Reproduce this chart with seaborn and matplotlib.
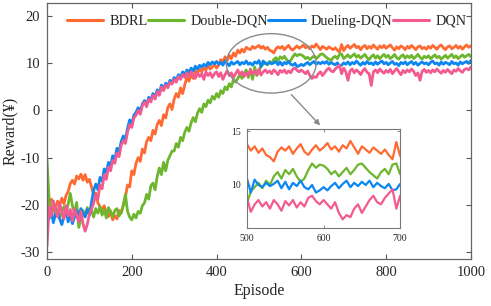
import numpy as np
import pandas as pd
import matplotlib
matplotlib.use("Agg")
import matplotlib.pyplot as plt
from matplotlib.patches import Ellipse
import seaborn as sns

episodes = list(range(0, 1001, 5))

bdrl = [
    -19, -20.5, -18.8, -19.5, -21, -19.2, -20, -18.6, -19.8, -18, -17.2, -15.5, -14.8, -15.6, -13.9, -14.5, -13.5, -14.8, -13.6, -15.2,
    -14.6, -16.2, -17.8, -17.5, -19.6, -20.4, -21.2, -20.2, -21.8, -22.5, -21.4, -23.2, -22.3, -23.0, -21.2, -21.8, -20.0, -18.4, -15.8, -16.2,
    -12.8, -13.6, -11.2, -10.0, -10.8, -8.2, -9.0, -6.6, -5.7, -6.4, -4.2, -5.0, -3.0, -2.1, -3.2, -0.9, -1.6, 0.6, 1.4, 0.2,
    2.4, 3.6, 2.8, 4.8, 3.6, 5.4, 7.0, 6.2, 7.6, 6.8, 8.5, 7.8, 9.0, 8.2, 9.0, 8.6, 9.6, 8.8, 9.2, 9.8,
    9.0, 9.6, 10.8, 10.2, 11.4, 10.6, 11.7, 11.0, 12.2, 11.5, 12.8, 12.2, 13.0, 12.4, 13.4, 13.1, 12.9, 13.6, 13.2, 13.5,
    13.8, 13.2, 13.6, 13.0, 13.4, 12.8, 12.6, 12.2, 13.1, 13.5, 13.2, 13.6, 12.9, 13.4, 13.8, 13.1, 12.8, 13.3, 13.7, 13.2,
    13.5, 13.9, 13.3, 13.6, 13.1, 13.7, 13.4, 14.1, 13.5, 12.9, 13.6, 13.3, 13.0, 13.5, 13.2, 12.9, 13.3, 12.8, 12.4, 14.0,
    12.7, 13.4, 13.8, 13.2, 13.6, 14.0, 13.3, 13.6, 12.9, 13.5, 13.8, 13.1, 13.6, 13.2, 13.9, 13.4, 13.0, 13.7, 13.3, 13.8,
    13.2, 13.6, 13.9, 13.3, 12.8, 13.5, 13.1, 13.7, 13.4, 12.9, 13.6, 13.2, 13.8, 13.4, 12.9, 13.5, 13.7, 13.1, 13.4, 13.0,
    13.6, 13.2, 13.8, 13.4, 13.0, 13.6, 13.9, 13.3, 12.9, 13.5, 13.7, 13.1, 13.4, 13.8, 13.2, 13.6, 13.0, 13.5, 13.9, 13.4, 13.7,
]

double_dqn = [
    -10.5, -19, -21.5, -20.2, -22.4, -21.0, -22.8, -21.5, -20.4, -22.0, -19.8, -17.6, -20.2, -21.8, -19.5, -24.8, -23.0, -21.2, -22.4, -20.6,
    -22.0, -21.2, -22.6, -20.8, -21.8, -20.4, -22.2, -21.0, -22.8, -20.6, -21.4, -22.6, -21.2, -20.8, -22.4, -21.6, -20.2, -17.8, -21.4, -22.6,
    -23.2, -22.0, -22.8, -21.4, -21.8, -20.2, -19.6, -17.8, -18.8, -16.0, -15.4, -16.8, -14.0, -12.2, -13.6, -11.0, -12.8, -10.6, -9.6, -8.6,
    -8.6, -7.0, -7.8, -5.7, -6.4, -4.6, -3.6, -4.4, -2.6, -1.5, -2.4, -0.6, 0.4, -0.4, 1.4, 0.8, 2.2, 1.6, 3.0, 2.4,
    3.6, 2.8, 4.2, 3.6, 5.0, 4.4, 5.7, 5.0, 6.6, 6.0, 6.8, 7.6, 6.8, 7.8, 8.6, 7.0, 8.8, 6.6, 9.2, 7.4,
    8.3, 9.4, 9.8, 10.2, 9.7, 10.4, 10.0, 10.8, 11.2, 10.6, 11.4, 11.0, 11.5, 10.8, 10.3, 10.6, 11.4, 12.0, 11.6, 11.9,
    11.8, 11.5, 11.0, 11.3, 10.8, 11.2, 11.6, 11.0, 11.4, 11.9, 12.0, 11.6, 11.2, 10.9, 10.6, 11.2, 11.5, 11.0, 11.9, 12.0,
    11.0, 11.4, 11.8, 11.2, 11.6, 12.0, 11.3, 11.7, 11.1, 11.5, 11.9, 11.2, 10.8, 11.4, 11.8, 11.1, 11.6, 11.0, 11.5, 11.9,
    11.3, 11.7, 11.0, 11.4, 11.9, 11.2, 10.9, 11.5, 11.8, 11.1, 11.6, 11.2, 11.7, 11.0, 11.4, 11.9, 11.3, 10.9, 11.5, 11.2,
    11.6, 11.0, 11.4, 11.8, 11.2, 11.5, 10.9, 11.3, 11.7, 11.1, 11.5, 11.9, 11.2, 11.6, 11.0, 11.4, 11.8, 11.3, 11.6, 11.9, 11.4,
]

dueling_dqn = [
    -21.5, -23.0, -21.2, -23.8, -22.0, -21.4, -23.0, -24.2, -22.4, -21.2, -23.6, -22.0, -24.0, -22.6, -21.2, -22.4, -20.8, -21.8, -22.6, -21.0,
    -22.2, -19.5, -17.0, -15.6, -16.8, -14.2, -15.0, -12.4, -13.2, -11.0, -11.8, -9.6, -10.4, -8.0, -8.8, -6.6, -5.4, -6.2, -3.8, -2.0,
    -2.8, -1.0, -0.4, 0.6, -0.2, 1.4, 2.1, 1.2, 2.8, 2.2, 3.6, 2.8, 4.4, 3.6, 5.4, 4.6, 5.8, 5.2, 6.4, 6.0,
    7.0, 6.4, 7.6, 7.0, 8.2, 7.6, 8.6, 8.0, 9.0, 8.4, 9.4, 8.8, 9.6, 9.2, 9.8, 9.4, 10.2, 9.7, 10.3, 9.9,
    10.4, 9.8, 10.2, 9.6, 10.5, 10.0, 9.5, 10.3, 9.8, 10.1, 10.4, 9.7, 10.2, 9.9, 10.5, 9.8, 10.1, 9.6, 10.3, 10.0,
    10.6, 9.3, 10.5, 10.0, 9.8, 10.2, 9.9, 10.1, 10.4, 9.7, 10.3, 9.6, 10.2, 9.9, 10.4, 9.8, 9.6, 10.0, 9.3, 9.5,
    9.8, 9.5, 9.9, 10.2, 9.7, 10.1, 10.4, 9.8, 10.2, 9.9, 10.3, 10.0, 10.4, 9.8, 10.2, 9.9, 9.7, 10.1, 9.5, 9.6,
    10.1, 9.8, 10.3, 9.7, 10.2, 9.9, 10.5, 10.0, 9.6, 10.2, 9.8, 10.4, 9.9, 10.1, 9.7, 10.3, 9.8, 10.2, 10.5, 9.9,
    10.2, 9.7, 10.1, 10.4, 9.8, 10.0, 9.5, 10.2, 9.9, 10.3, 9.7, 10.1, 10.4, 9.8, 10.2, 9.6, 10.0, 10.3, 9.9, 10.1,
    9.7, 10.2, 10.5, 9.9, 10.1, 9.6, 10.3, 9.8, 10.2, 10.0, 9.7, 10.4, 9.9, 10.1, 9.6, 10.3, 9.9, 10.2, 10.4, 10.0, 10.6,
]

dqn = [
    -28.8, -20.5, -22.4, -19.2, -21.0, -22.6, -19.8, -21.4, -23.0, -20.2, -22.4, -21.0, -23.4, -20.8, -22.2, -23.6, -21.4, -24.0, -25.6, -24.2,
    -22.0, -21.0, -19.6, -18.0, -18.8, -15.8, -16.6, -13.6, -14.6, -12.0, -12.8, -10.6, -11.2, -9.0, -9.8, -7.4, -6.4, -7.0, -4.6, -3.0,
    -3.6, -1.6, -1.0, 0.0, -0.8, 1.0, 1.8, 0.8, 2.4, 1.8, 3.2, 2.4, 4.0, 3.2, 5.0, 4.2, 5.4, 4.8, 6.0, 5.6,
    6.6, 6.0, 7.2, 6.6, 7.6, 7.0, 8.0, 7.2, 8.2, 7.4, 6.8, 8.0, 7.2, 7.8, 6.6, 8.2, 7.4, 8.0, 7.0, 7.8,
    8.2, 7.2, 8.0, 6.6, 7.6, 8.4, 7.4, 8.0, 7.0, 7.8, 8.6, 7.6, 8.2, 7.2, 8.0, 7.4, 8.6, 7.8, 8.4, 7.6,
    8.8, 7.5, 8.2, 8.6, 8.0, 8.4, 7.8, 8.6, 8.2, 7.6, 8.5, 8.1, 8.6, 7.9, 8.4, 8.0, 8.8, 9.0, 8.5, 8.2,
    8.6, 8.2, 7.8, 8.4, 7.4, 6.8, 7.2, 7.0, 7.8, 8.2, 7.4, 8.0, 8.6, 9.0, 8.4, 8.2, 8.8, 9.2, 9.6, 7.8,
    9.0, 8.2, 6.4, 8.4, 8.8, 8.0, 8.6, 8.2, 7.6, 8.4, 8.9, 8.1, 7.8, 5.3, 8.2, 8.6, 8.0, 8.8, 8.3, 7.9,
    8.5, 8.1, 8.7, 7.8, 8.4, 8.9, 8.2, 7.6, 8.5, 8.0, 8.6, 8.2, 8.8, 8.3, 7.4, 8.0, 6.4, 8.3, 8.7, 8.1,
    8.5, 8.0, 8.6, 8.2, 8.8, 8.3, 7.9, 8.5, 8.1, 8.7, 8.2, 7.8, 8.6, 8.3, 8.9, 8.4, 8.1, 8.7, 8.9, 8.6, 9.2,
]

methods = ["BDRL", "Double-DQN", "Dueling-DQN", "DQN"]
colors = ["#FF6A33", "#6DB62E", "#0C86F0", "#F25A90"]
main_xticks = [0, 200, 400, 600, 800, 1000]
main_yticks = [-30, -20, -10, 0, 10, 20]
inset_xticks = [500, 600, 700]
inset_yticks = [10, 15]

frames = []
for name, vals in zip(methods, [bdrl, double_dqn, dueling_dqn, dqn]):
    frames.append(pd.DataFrame({"Episode": episodes, "Reward": vals, "Method": name}))
df = pd.concat(frames, ignore_index=True)

sns.set_style("ticks")
plt.rcParams["font.family"] = ["Liberation Serif", "DejaVu Serif"]
plt.rcParams["axes.unicode_minus"] = False
plt.rcParams["xtick.direction"] = "in"
plt.rcParams["ytick.direction"] = "in"

fig = plt.figure(figsize=(4.91, 3.06), dpi=100)
ax = fig.add_axes([0.0957, 0.1536, 0.8633, 0.8366])
palette = dict(zip(methods, colors))
sns.lineplot(data=df, x="Episode", y="Reward", hue="Method", hue_order=methods,
             palette=palette, linewidth=2.0, ax=ax, estimator=None)
ax.set_xlim(0, 1000)
ax.set_ylim(-31.5, 22.8)
ax.set_xticks(main_xticks)
ax.set_yticks(main_yticks)
ax.tick_params(axis="both", which="both", direction="in", top=True, right=True,
               length=3.5, width=0.8, color="#555555", labelsize=10.5, pad=5)
for s in ax.spines.values():
    s.set_color("#666666")
    s.set_linewidth(0.9)
ax.set_xlabel("Episode", fontsize=11.5, labelpad=3)
ax.set_ylabel("Reward(¥)", fontsize=11.5, labelpad=2)

leg = ax.legend(loc="upper right", bbox_to_anchor=(1.0, 0.97), ncol=4, frameon=False,
                fontsize=10.3, handlelength=2.55, handletextpad=0.45, columnspacing=0.0,
                borderaxespad=0.1, borderpad=0.2)
for line in leg.get_lines():
    line.set_linewidth(2.2)

ell = Ellipse((529, 10.0), 212, 12.6, fill=False, edgecolor="#8a8a8a", linewidth=1.0, zorder=5)
ax.add_patch(ell)
ax.annotate("", xy=(649, -3.6), xytext=(572, 3.8),
            arrowprops=dict(arrowstyle="-|>", color="#8a8a8a", lw=1.0, mutation_scale=8))

axin = fig.add_axes([0.503, 0.255, 0.312, 0.323])
sns.lineplot(data=df, x="Episode", y="Reward", hue="Method", hue_order=methods,
             palette=palette, linewidth=1.6, ax=axin, estimator=None, legend=False)
axin.set_xlim(500, 700)
axin.set_ylim(6.0, 15.2)
axin.set_xticks(inset_xticks)
axin.set_yticks(inset_yticks)
axin.set_xlabel("")
axin.set_ylabel("")
axin.tick_params(axis="both", direction="in", top=True, right=True, length=2.5,
                 width=0.6, color="#777777", labelsize=7, pad=4)
for s in axin.spines.values():
    s.set_color("#777777")
    s.set_linewidth(0.8)

fig.savefig("out.png", dpi=100)
